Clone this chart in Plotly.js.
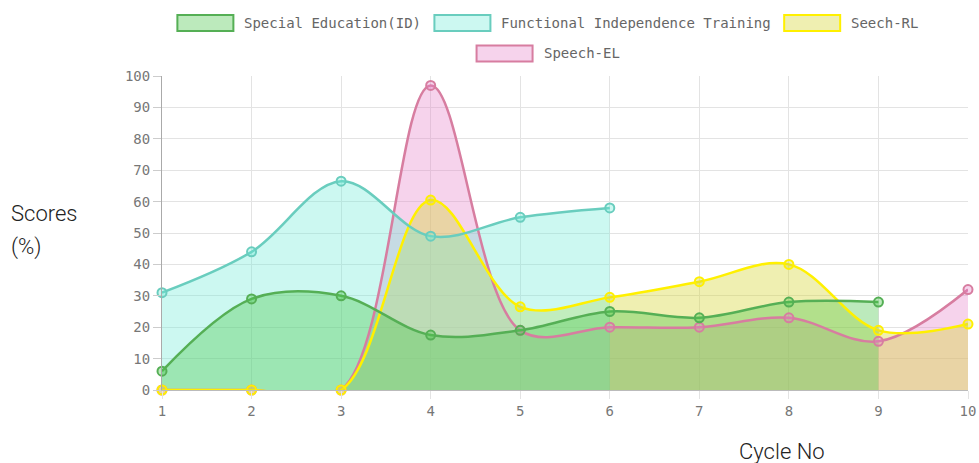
<!DOCTYPE html>
<html>
<head>
<meta charset="utf-8">
<script src="https://cdn.plot.ly/plotly-3.0.1.min.js"></script>
<style>html,body{margin:0;padding:0;background:#fff;}#chart{width:979px;height:463px;}</style>
</head>
<body>
<div id="chart"></div>
<script>
const cycles = [1, 2, 3, 4, 5, 6, 7, 8, 9, 10];
const seriesNames = ["Special Education(ID)", "Functional Independence Training", "Seech-RL", "Speech-EL"];
const specialEducation = [6, 29, 30, 17.5, 19, 25, 23, 28, 28, null];
const functionalIndependence = [31, 44, 66.5, 49, 55, 58, null, null, null, null];
const seechRL = [0, 0, 0, 60.5, 26.5, 29.5, 34.5, 40, 19, 21];
const speechEL = [0, 0, 0, 97, 19, 20, 20, 23, 15.5, 32];

const lineColors = ["rgb(85,175,85)", "rgb(105,205,190)", "rgb(255,240,0)", "rgb(215,125,160)"];
const fillColors = ["rgba(80,200,80,0.38)", "rgba(110,235,215,0.35)", "rgba(215,215,60,0.4)", "rgba(230,130,200,0.35)"];
const values = [specialEducation, functionalIndependence, seechRL, speechEL];

function pts(i) {
  const xs = [], ys = [];
  values[i].forEach((v, k) => { if (v !== null) { xs.push(cycles[k]); ys.push(v); } });
  return {xs, ys};
}

const traces = [];
// Fills first (all beneath all lines, as in Chart.js), last dataset drawn first
for (let i = values.length - 1; i >= 0; i--) {
  const {xs, ys} = pts(i);
  traces.push({
    type: "scatter", mode: "lines", name: seriesNames[i] + " fill",
    x: xs, y: ys, fill: "tozeroy", fillcolor: fillColors[i],
    line: {color: "rgba(0,0,0,0)", width: 0, shape: "spline", smoothing: 1},
    showlegend: false, hoverinfo: "skip"
  });
}
// Lines and points on top
for (let i = values.length - 1; i >= 0; i--) {
  const {xs, ys} = pts(i);
  traces.push({
    type: "scatter", mode: "lines+markers", name: seriesNames[i],
    x: xs, y: ys, cliponaxis: false,
    line: {color: lineColors[i], width: 2.5, shape: "spline", smoothing: 1},
    marker: {size: 9, color: fillColors[i], line: {color: lineColors[i], width: 2}},
    showlegend: false
  });
}

// Plot area in pixels (for the custom Chart.js-style legend and titles)
const W = 979, H = 463, M = {l: 162, r: 11, t: 76, b: 73};
const pw = W - M.l - M.r, ph = H - M.t - M.b;
const px = p => (p - M.l) / pw;
const py = p => (H - M.b - p) / ph;

// Custom legend: boxes + labels, rows centered
const charW = 8.43, boxW = 58, boxH = 18, textGap = 8, itemGap = 14, legendCenter = 546.5;
const rows = [[0, 1, 2], [3]];
const rowCenters = [23, 53.5];
const shapes = [], annotations = [];
rows.forEach((row, r) => {
  const widths = row.map(i => boxW + textGap + seriesNames[i].length * charW);
  const total = widths.reduce((a, b) => a + b, 0) + itemGap * (row.length - 1);
  let x = legendCenter - total / 2;
  row.forEach((i, k) => {
    shapes.push({type: "rect", xref: "paper", yref: "paper",
      x0: px(x + 1), x1: px(x + boxW - 1), y0: py(rowCenters[r] + boxH / 2 - 1), y1: py(rowCenters[r] - boxH / 2 + 1),
      line: {color: lineColors[i], width: 2}, fillcolor: fillColors[i]});
    annotations.push({text: seriesNames[i], xref: "paper", yref: "paper", x: px(x + boxW + textGap), y: py(rowCenters[r]),
      xanchor: "left", yanchor: "middle", showarrow: false,
      font: {family: "DejaVu Sans Mono", size: 14, color: "#666"}});
    x += widths[k] + itemGap;
  });
});

annotations.push(
  {text: "Scores", xref: "paper", yref: "paper", x: px(9), y: py(213), xanchor: "left", yanchor: "middle",
   showarrow: false, font: {family: "Roboto", size: 22, color: "#222", weight: 300}},
  {text: "(%)", xref: "paper", yref: "paper", x: px(9), y: py(247), xanchor: "left", yanchor: "middle",
   showarrow: false, font: {family: "Roboto", size: 22, color: "#222", weight: 300}},
  {text: "Cycle No", xref: "paper", yref: "paper", x: px(782), y: py(451), xanchor: "center", yanchor: "middle",
   showarrow: false, font: {family: "Roboto", size: 22, color: "#222", weight: 300}}
);

const layout = {
  width: W, height: H,
  margin: M,
  paper_bgcolor: "#fff", plot_bgcolor: "#fff",
  showlegend: false,
  xaxis: {
    range: [1, 10], tickvals: cycles, ticktext: cycles.map(String),
    showgrid: true, gridcolor: "#e3e3e3", zeroline: false,
    showline: true, linecolor: "#bbb", linewidth: 1,
    ticks: "outside", ticklen: 8, tickcolor: "#e3e3e3",
    tickfont: {family: "DejaVu Sans Mono", size: 14, color: "#777"},
    fixedrange: true
  },
  yaxis: {
    range: [0, 100], dtick: 10,
    showgrid: true, gridcolor: "#e3e3e3", zeroline: false,
    showline: true, linecolor: "#aaa", linewidth: 1,
    ticks: "outside", ticklen: 8, tickcolor: "#ccc",
    tickfont: {family: "DejaVu Sans Mono", size: 14, color: "#777"},
    fixedrange: true
  },
  shapes: shapes,
  annotations: annotations
};

Plotly.newPlot("chart", traces, layout, {displayModeBar: false, staticPlot: true});
</script>
</body>
</html>
